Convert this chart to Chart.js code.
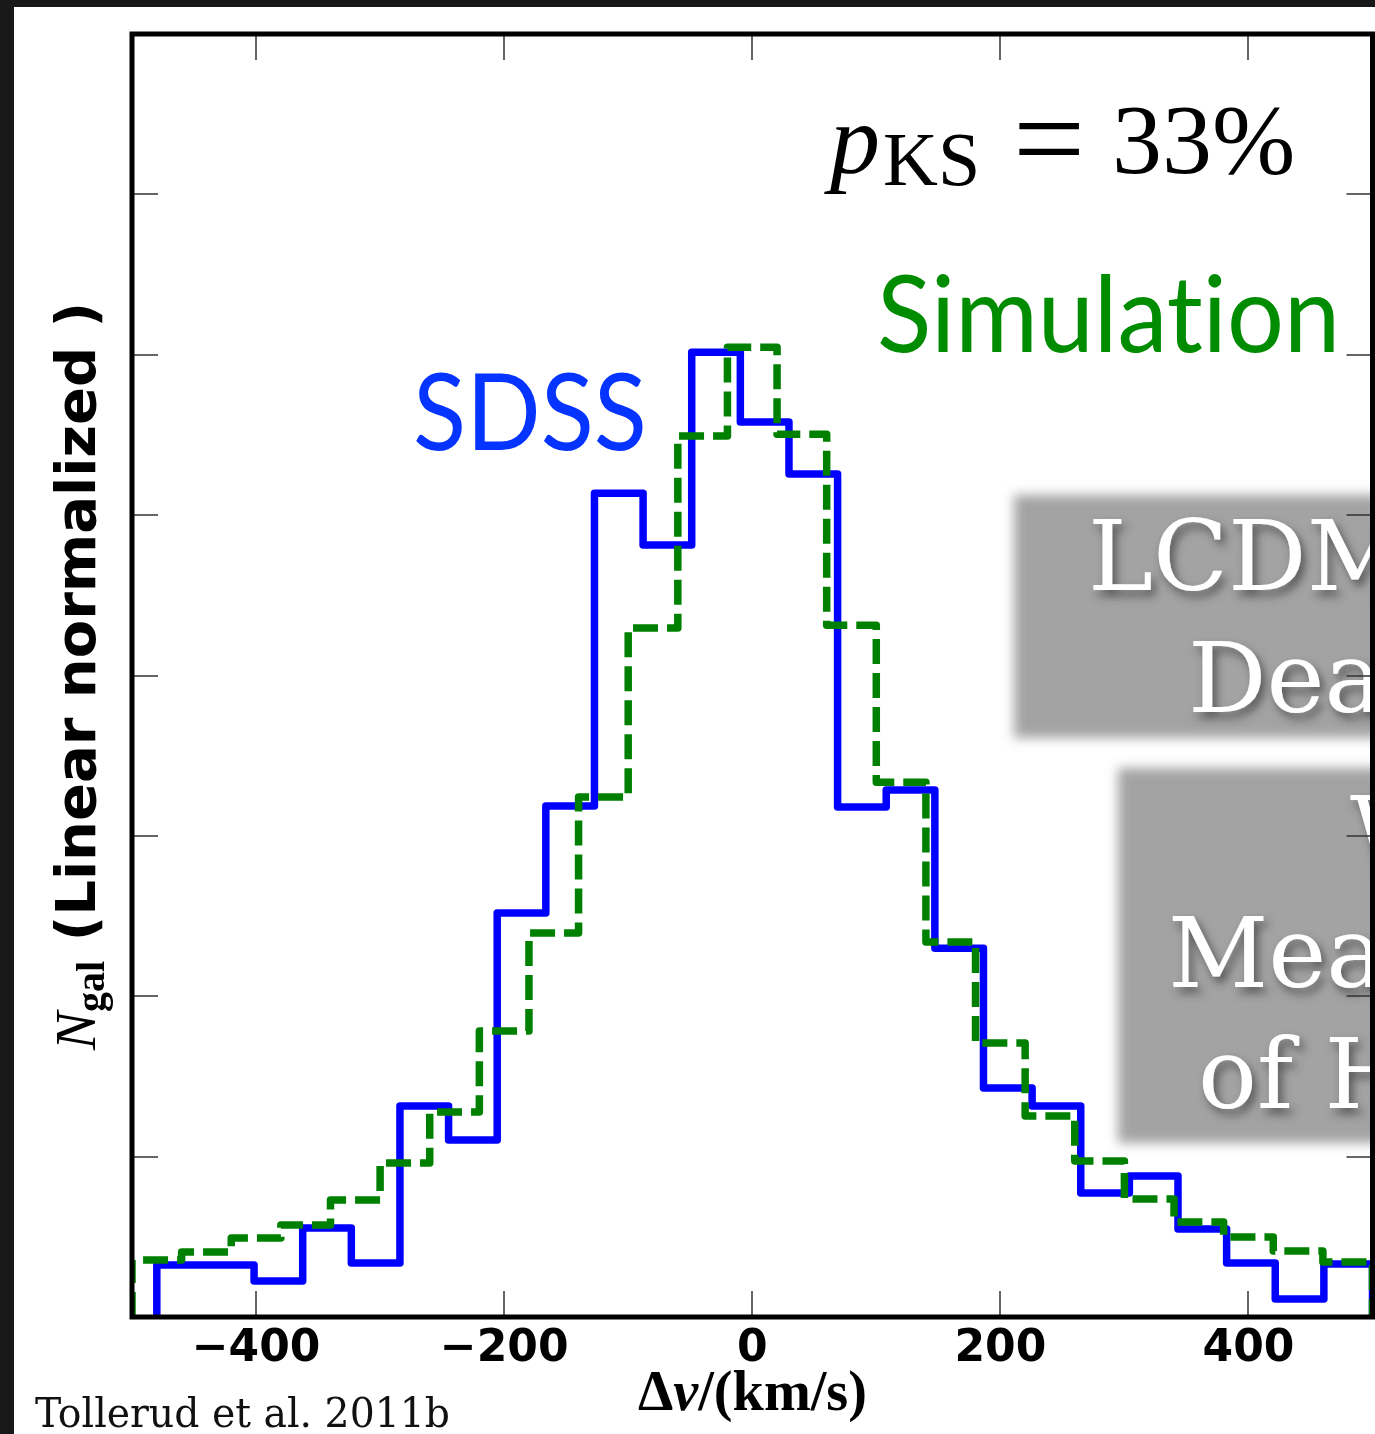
<!DOCTYPE html>
<html>
<head>
<meta charset="utf-8">
<script src="https://cdn.jsdelivr.net/npm/chart.js@4.4.1/dist/chart.umd.min.js"></script>
<style>
  html, body { margin:0; padding:0; background:#181818; overflow:hidden; }
  #wrap { position:relative; width:1375px; height:1434px; }
  #under, #over, #c { position:absolute; left:0; top:0; }
  text { font-variant-ligatures: none; font-feature-settings: "liga" 0, "clig" 0; }
</style>
</head>
<body>
<script>
// ---------------- data ----------------
// SDSS histogram: 25 bins, edges in km/s
const sdssEdges = [-480, -440.8, -401.6, -362.4, -323.2, -284, -244.8, -205.6, -166.4, -127.2,
                   -88, -48.8, -9.6, 29.6, 68.8, 108, 147.2, 186.4, 225.6, 264.8,
                   304, 343.2, 382.4, 421.6, 460.8, 500];
const sdssCounts = [0.324, 0.324, 0.224, 0.555, 0.337, 1.315, 1.103, 2.519, 3.186, 5.137,
                    4.813, 6.016, 5.580, 5.256, 3.180, 3.286, 2.300, 1.428, 1.315, 0.773,
                    0.879, 0.549, 0.337, 0.112, 0.330];
// Simulation histogram: 25 bins, edges in km/s
const simEdges = [-500, -460, -420, -380, -340, -300, -260, -220, -180, -140,
                  -100, -60, -20, 20, 60, 100, 140, 180, 220, 260,
                  300, 340, 380, 420, 460, 500];
const simCounts = [0.355, 0.405, 0.493, 0.574, 0.729, 0.960, 1.278, 1.783, 2.394, 3.242,
                   4.296, 5.493, 6.047, 5.505, 4.314, 3.335, 2.338, 1.708, 1.253, 0.973,
                   0.736, 0.592, 0.499, 0.411, 0.343];
const xTickValues = [-400, -200, 0, 200, 400];
const yTickValues = [1, 2, 3, 4, 5, 6, 7];
const xRange = [-500, 500];
const yRange = [0, 8];
const seriesNames = ['SDSS', 'Simulation'];
</script>

<div id="wrap">
  <svg id="under" width="1375" height="1434" xmlns="http://www.w3.org/2000/svg">
    <defs>
      <filter id="soft" x="-20%" y="-20%" width="140%" height="140%">
        <feGaussianBlur stdDeviation="6"/>
      </filter>
      <filter id="tshadow" x="-20%" y="-30%" width="140%" height="160%">
        <feDropShadow dx="4" dy="6" stdDeviation="5" flood-color="#3a3a3a" flood-opacity="0.75"/>
      </filter>
    </defs>
    <rect x="14" y="7" width="1361" height="1427" fill="#ffffff"/>
    <g filter="url(#soft)">
      <rect x="1014" y="495" width="420" height="243" fill="#a3a3a3"/>
      <rect x="1118" y="768" width="320" height="375" fill="#a3a3a3"/>
    </g>
    <g font-family="'DejaVu Serif', serif" font-size="98" fill="#ffffff" filter="url(#tshadow)">
      <text x="1088" y="590">LCDM</text>
      <text x="1188" y="712">Dea</text>
      <text x="1350" y="866">W</text>
      <text x="1168" y="987">Mea</text>
      <text x="1198" y="1108">of H</text>
    </g>
  </svg>
  <canvas id="c" width="1375" height="1434"></canvas>
  <svg id="over" width="1375" height="1434" xmlns="http://www.w3.org/2000/svg">
    <!-- p_KS = 33% -->
    <text font-family="'Liberation Serif', serif" font-size="100" fill="#000">
      <tspan x="830" y="173" font-style="italic">p</tspan><tspan font-size="76" x="883" y="185">KS</tspan><tspan x="1013" y="181" font-size="128">=</tspan><tspan x="1112" y="173">33%</tspan>
    </text>
    <text x="877" y="352" font-family="Lato, 'Open Sans', sans-serif" font-size="107" fill="#008c00" textLength="463" lengthAdjust="spacingAndGlyphs">Simulation</text>
    <text x="413" y="450" font-family="Lato, 'Open Sans', sans-serif" font-size="107" fill="#0533ff" textLength="234" lengthAdjust="spacingAndGlyphs">SDSS</text>
    <!-- axis titles -->
    <text x="752.5" y="1410" text-anchor="middle" font-family="'Liberation Serif', serif" font-weight="bold" font-size="56" fill="#000" textLength="229" lengthAdjust="spacingAndGlyphs"><tspan>Δ</tspan><tspan font-style="italic">v</tspan><tspan>/(km/s)</tspan></text>
    <text transform="translate(95,1050) rotate(-90)" fill="#000">
      <tspan font-family="'Liberation Serif', serif" font-style="italic" font-size="57">N</tspan><tspan font-family="'Liberation Serif', serif" font-weight="bold" font-size="40" dy="9">gal</tspan><tspan font-family="'DejaVu Sans', sans-serif" font-weight="bold" font-size="56" dy="-9"> (Linear normalized )</tspan>
    </text>
    <text x="35" y="1427" font-family="'DejaVu Serif Condensed', 'DejaVu Serif', serif" font-size="41" fill="#111" textLength="415" lengthAdjust="spacingAndGlyphs">Tollerud et al. 2011b</text>
  </svg>
</div>

<script>
function stepPoints(edges, counts) {
  const pts = [{ x: edges[0], y: 0 }];
  counts.forEach((c, i) => pts.push({ x: edges[i], y: c }));
  pts.push({ x: edges[edges.length - 1], y: 0 });
  return pts;
}

const framePlugin = {
  id: 'frame',
  afterDraw(chart) {
    const { ctx, chartArea: { left, right, top, bottom }, scales: { x, y } } = chart;
    ctx.save();
    ctx.strokeStyle = '#333';
    ctx.lineWidth = 1.5;
    ctx.beginPath();
    xTickValues.forEach(v => {
      const px = Math.round(x.getPixelForValue(v));
      ctx.moveTo(px, bottom); ctx.lineTo(px, bottom - 26);
      ctx.moveTo(px, top); ctx.lineTo(px, top + 26);
    });
    yTickValues.forEach(v => {
      const py = Math.round(y.getPixelForValue(v));
      ctx.moveTo(left, py); ctx.lineTo(left + 26, py);
      ctx.moveTo(right, py); ctx.lineTo(right - 26, py);
    });
    ctx.stroke();
    ctx.strokeStyle = '#000';
    ctx.lineWidth = 5;
    ctx.strokeRect(left, top, right - left, bottom - top);
    ctx.restore();
  }
};

new Chart(document.getElementById('c'), {
  type: 'line',
  data: {
    datasets: [
      {
        label: seriesNames[0],
        data: stepPoints(sdssEdges, sdssCounts),
        stepped: 'before',
        borderColor: '#0000ff',
        borderWidth: 7.5,
        borderCapStyle: 'round',
        borderJoinStyle: 'round',
        pointRadius: 0,
        fill: false,
        order: 2
      },
      {
        label: seriesNames[1],
        data: stepPoints(simEdges, simCounts),
        stepped: 'before',
        borderColor: '#008000',
        borderWidth: 7.5,
        borderDash: [25, 9],
        borderCapStyle: 'butt',
        borderJoinStyle: 'round',
        pointRadius: 0,
        fill: false,
        order: 1
      }
    ]
  },
  options: {
    responsive: false,
    animation: false,
    devicePixelRatio: 1,
    layout: { padding: { left: 132, top: 34, right: 2.5, bottom: 0 } },
    plugins: { legend: { display: false }, tooltip: { enabled: false }, title: { display: false } },
    scales: {
      x: {
        type: 'linear',
        min: xRange[0], max: xRange[1],
        grid: { display: false },
        border: { display: false },
        afterBuildTicks: s => { s.ticks = xTickValues.map(v => ({ value: v })); },
        afterFit: s => { s.height = 117; },
        ticks: {
          padding: -2,
          color: '#000',
          font: { family: "'DejaVu Sans', sans-serif", weight: 'bold', size: 44 },
          callback: v => (v < 0 ? '\u2212' + Math.abs(v) : String(v)),
          maxRotation: 0, autoSkip: false
        }
      },
      y: {
        type: 'linear',
        display: false,
        min: yRange[0], max: yRange[1]
      }
    }
  },
  plugins: [framePlugin]
});
</script>
</body>
</html>
